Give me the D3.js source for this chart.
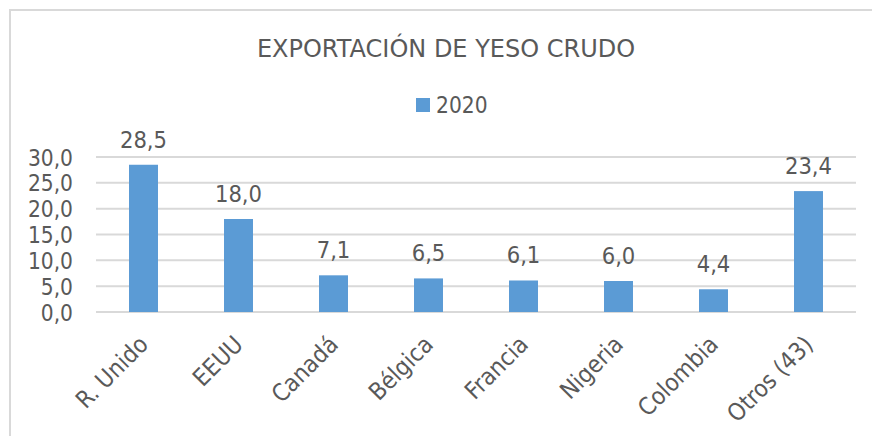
<!DOCTYPE html>
<html><head><meta charset="utf-8">
<script src="https://cdn.jsdelivr.net/npm/d3@7"></script>
<style>
html,body{margin:0;padding:0;background:#fff;}
svg{display:block;}
text{font-family:"DejaVu Sans Condensed","DejaVu Sans",sans-serif;fill:#595959;}
</style></head>
<body>
<svg id="chart" width="872" height="436"></svg>
<script>
const categories = ["R. Unido","EEUU","Canadá","Bélgica","Francia","Nigeria","Colombia","Otros (43)"];
const values2020 = [28.5,18.0,7.1,6.5,6.1,6.0,4.4,23.4];
const yTicks = [0,5,10,15,20,25,30];
const seriesName = "2020";
const title = "EXPORTACIÓN DE YESO CRUDO";

const svg = d3.select("#chart");
const fmt = v => d3.format(".1f")(v).replace(".", ",");

// chart border (left + top)
svg.append("path").attr("d","M10,436 V10 H872").attr("fill","none")
  .attr("stroke","#d9d9d9").attr("stroke-width",2);

const x = d3.scaleBand().domain(categories).range([96,856])
  .paddingInner(0.695).paddingOuter(0.3475);
const y = d3.scaleLinear().domain([0,30]).range([312,157]);

// gridlines
svg.append("g").selectAll("line").data(yTicks).join("line")
  .attr("x1",96).attr("x2",856)
  .attr("y1",d=>y(d)).attr("y2",d=>y(d))
  .attr("stroke","#d9d9d9").attr("stroke-width",2);

// y axis labels
const yAxis = d3.axisLeft(y).tickValues(yTicks).tickFormat(fmt).tickSize(0).tickPadding(0);
const gy = svg.append("g").attr("transform","translate(73,0)").call(yAxis);
gy.select(".domain").remove();
gy.selectAll("text").attr("font-size",22.5).attr("font-family",null).attr("fill","#595959").attr("dy","0.36em");

// bars
svg.append("g").selectAll("rect").data(values2020).join("rect")
  .attr("x",(d,i)=>x(categories[i])).attr("width",x.bandwidth())
  .attr("y",d=>y(d)).attr("height",d=>y(0)-y(d))
  .attr("fill","#5b9bd5");

// data labels
svg.append("g").selectAll("text").data(values2020).join("text")
  .attr("x",(d,i)=>x(categories[i])+x.bandwidth()/2)
  .attr("y",d=>y(d)-17)
  .attr("text-anchor","middle").attr("font-size",23.5)
  .text(d=>fmt(d));

// x labels
const xAxis = d3.axisBottom(x).tickSize(0).tickPadding(0);
const gx = svg.append("g").attr("transform","translate(0,312)").call(xAxis);
gx.select(".domain").remove();
gx.selectAll("text").attr("font-size",24).attr("font-family",null).attr("fill","#595959")
  .attr("text-anchor","end").attr("dy",null).attr("y",0)
  .attr("transform","translate(6,34) rotate(-45)");

// title
svg.append("text").attr("x",446).attr("y",57).attr("text-anchor","middle")
  .style("font-family","'DejaVu Sans',sans-serif").attr("font-size",24).text(title);

// legend
svg.append("rect").attr("x",416).attr("y",98).attr("width",14).attr("height",14).attr("fill","#5b9bd5");
svg.append("text").attr("x",436).attr("y",113).attr("font-size",22.5).text(seriesName);
</script>
</body></html>
